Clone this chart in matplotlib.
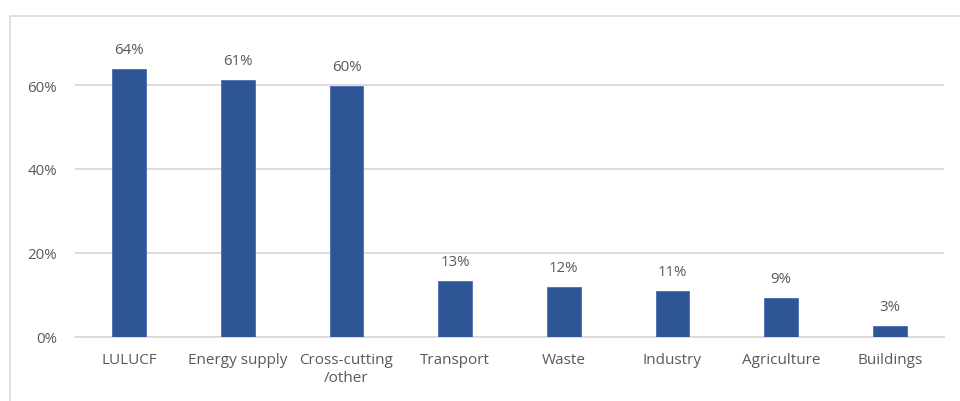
import matplotlib.pyplot as plt
from matplotlib.patches import Rectangle
from matplotlib.ticker import PercentFormatter

# Share of measures by sector
sectors = ['LULUCF', 'Energy supply', 'Cross-cutting\n/other', 'Transport',
           'Waste', 'Industry', 'Agriculture', 'Buildings']
shares = [0.638, 0.613, 0.598, 0.133, 0.120, 0.11, 0.093, 0.027]

plt.rcParams['font.family'] = ['Open Sans', 'DejaVu Sans']
text_col = '#595959'
grid_col = '#d9d9d9'

fig = plt.figure(figsize=(9.6, 4.02), dpi=100)
W, H = 960, 402

# outer chart frame (cut off at right and bottom like the screenshot)
fig.patches.append(Rectangle((10 / W, -0.1), 1.2, (H - 17) / H + 0.1,
                             transform=fig.transFigure, fill=False,
                             edgecolor=grid_col, linewidth=1.2))

ax = fig.add_axes([75 / W, 64 / H, (944 - 75) / W, 294 / H])
x = range(len(sectors))
bars = ax.bar(x, shares, width=0.31, color='#2E5596', edgecolor='#4a6fae',
              linewidth=0.6, zorder=3)

for b, v in zip(bars, shares):
    ax.annotate(f'{v:.0%}', (b.get_x() + b.get_width() / 2, v),
                xytext=(0, 8.5), textcoords='offset points',
                ha='center', va='bottom', fontsize=10.8, color=text_col)

ax.set_xlim(-0.5, len(sectors) - 0.5)
ax.set_ylim(0, 0.70)
ax.set_yticks([0, 0.2, 0.4, 0.6])
ax.yaxis.set_major_formatter(PercentFormatter(1.0, decimals=0))
ax.set_xticks(list(x))
ax.set_xticklabels(sectors, fontsize=11, color=text_col, linespacing=1.25,
                   va='top')
ax.tick_params(axis='y', labelsize=10.8, labelcolor=text_col, length=0, pad=13)
ax.tick_params(axis='x', length=0, pad=11)
ax.grid(axis='y', color=grid_col, linewidth=1.3, zorder=0)
for s in ['top', 'right', 'left']:
    ax.spines[s].set_visible(False)
ax.spines['bottom'].set_color(grid_col)
ax.spines['bottom'].set_linewidth(1.3)

fig.savefig('out.png', dpi=100)
